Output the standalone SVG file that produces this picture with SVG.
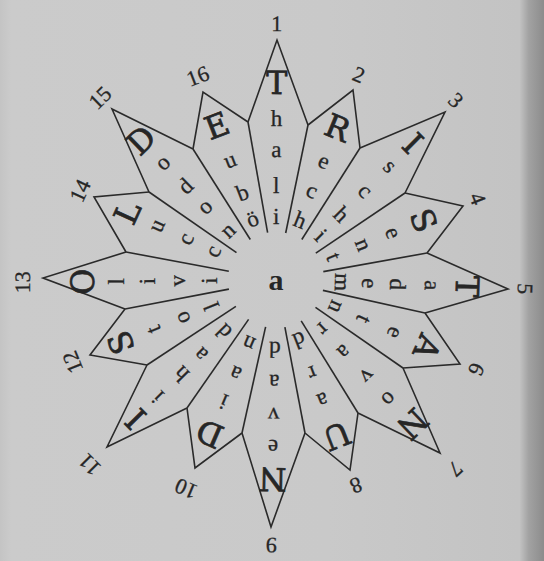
<svg xmlns="http://www.w3.org/2000/svg" width="544" height="561" viewBox="0 0 544 561">
<defs>
<linearGradient id="paper" x1="0" y1="0" x2="1" y2="0">
<stop offset="0" stop-color="#c4c4c4"/>
<stop offset="0.02" stop-color="#cbcbcb"/>
<stop offset="0.6" stop-color="#c9c9c9"/>
<stop offset="0.955" stop-color="#c3c3c3"/>
<stop offset="0.972" stop-color="#a2a2a2"/>
<stop offset="1" stop-color="#8c8c8c"/>
</linearGradient>
<style>
.edge{fill:none;stroke:#2a2a2a;stroke-width:1.6;stroke-linejoin:miter}
.spoke{stroke:#2a2a2a;stroke-width:1.6;fill:none}
text{font-family:"Liberation Serif","DejaVu Serif",serif;fill:#262626;text-anchor:middle}
.cap{font-family:"DejaVu Serif","Liberation Serif",serif;font-size:32px;stroke:#262626;stroke-width:0.7}
.sm{font-size:23px;stroke:#262626;stroke-width:0.3}
.num{font-size:22px;stroke:#262626;stroke-width:0.3}
.mid{font-size:30px;font-weight:bold}
</style>
</defs>
<rect x="0" y="0" width="544" height="561" fill="url(#paper)"/>

<g id="connectors">
<line class="spoke" x1="248" y1="122" x2="267.6" y2="232.7"/>
<line class="spoke" x1="308" y1="125" x2="285.7" y2="233"/>
<line class="spoke" x1="360" y1="148" x2="301.8" y2="239.5"/>
<line class="spoke" x1="405" y1="193" x2="315.8" y2="253.2"/>
<line class="spoke" x1="427" y1="253" x2="323.3" y2="271.6"/>
<line class="spoke" x1="425" y1="313" x2="322.9" y2="290.4"/>
<line class="spoke" x1="403" y1="368" x2="315.5" y2="307.3"/>
<line class="spoke" x1="358" y1="413" x2="301.2" y2="320.9"/>
<line class="spoke" x1="305" y1="433" x2="284.9" y2="327.2"/>
<line class="spoke" x1="242" y1="433" x2="265.6" y2="326.9"/>
<line class="spoke" x1="187" y1="408" x2="248.6" y2="319.4"/>
<line class="spoke" x1="147" y1="365" x2="235.9" y2="306.4"/>
<line class="spoke" x1="125" y1="309" x2="228.9" y2="289.1"/>
<line class="spoke" x1="126" y1="252" x2="228.8" y2="271.2"/>
<line class="spoke" x1="149" y1="192" x2="236.5" y2="252.7"/>
<line class="spoke" x1="193" y1="149" x2="250.3" y2="239.5"/>
</g>

<g id="center"><text class="mid" x="276" y="290">a</text></g>

<g id="ray1">
<path class="edge" d="M248,122 L277,40 L308,125"/>
<g transform="rotate(0.2 276 280)">
<text class="num" x="276" y="31">1</text>
<text class="cap" x="276" y="94">T</text>
<text class="sm" x="276" y="126">h</text>
<text class="sm" x="276" y="157">a</text>
<text class="sm" x="276" y="193">l</text>
<text class="sm" x="276" y="224">i</text>
</g>
</g>

<g id="ray2">
<path class="edge" d="M308,125 L353,90 L360,148"/>
<g transform="rotate(22 276 280)">
<text class="num" x="276" y="66">2</text>
<text class="cap" x="276" y="127">R</text>
<text class="sm" x="276" y="159">e</text>
<text class="sm" x="276" y="191">c</text>
<text class="sm" x="276" y="223">h</text>
</g>
</g>

<g id="ray3">
<path class="edge" d="M360,148 L445,112 L405,193"/>
<g transform="rotate(45 276 280)">
<text class="num" x="276" y="33">3</text>
<text class="cap" x="276" y="98">I</text>
<text class="sm" x="276" y="126">s</text>
<text class="sm" x="276" y="161">c</text>
<text class="sm" x="276" y="195">h</text>
<text class="sm" x="276" y="224">i</text>
</g>
</g>

<g id="ray4">
<path class="edge" d="M405,193 L463,206 L427,253"/>
<g transform="rotate(68 276 280)">
<text class="num" x="276" y="70">4</text>
<text class="cap" x="276" y="132">S</text>
<text class="sm" x="276" y="161">e</text>
<text class="sm" x="276" y="193">n</text>
<text class="sm" x="276" y="225">t</text>
</g>
</g>

<g id="ray5">
<path class="edge" d="M427,253 L508,289 L425,313"/>
<g transform="rotate(92 276 280)">
<text class="num" x="276" y="38">5</text>
<text class="cap" x="276" y="100">T</text>
<text class="sm" x="276" y="131">a</text>
<text class="sm" x="276" y="166">d</text>
<text class="sm" x="276" y="194">e</text>
<text class="sm" x="276" y="221">m</text>
</g>
</g>

<g id="ray6">
<path class="edge" d="M425,313 L460,364 L403,368"/>
<g transform="rotate(114 276 280)">
<text class="num" x="276" y="68">6</text>
<text class="cap" x="276" y="126">A</text>
<text class="sm" x="276" y="157">e</text>
<text class="sm" x="276" y="191">t</text>
<text class="sm" x="276" y="221">n</text>
</g>
</g>

<g id="ray7">
<path class="edge" d="M403,368 L440,453 L358,413"/>
<g transform="rotate(136.5 276 280)">
<text class="num" x="276" y="27">7</text>
<text class="cap" x="276" y="93">N</text>
<text class="sm" x="276" y="123">o</text>
<text class="sm" x="276" y="155">v</text>
<text class="sm" x="276" y="188">a</text>
<text class="sm" x="276" y="219">r</text>
</g>
</g>

<g id="ray8">
<path class="edge" d="M358,413 L350,470 L305,433"/>
<g transform="rotate(158.7 276 280)">
<text class="num" x="276" y="67">8</text>
<text class="cap" x="276" y="124">U</text>
<text class="sm" x="276" y="158">a</text>
<text class="sm" x="276" y="187">r</text>
<text class="sm" x="276" y="223">d</text>
</g>
</g>

<g id="ray9">
<path class="edge" d="M305,433 L271,527 L242,433"/>
<g transform="rotate(181 276 280)">
<text class="num" x="276" y="22">9</text>
<text class="cap" x="276" y="92">N</text>
<text class="sm" x="276" y="120">e</text>
<text class="sm" x="276" y="152">v</text>
<text class="sm" x="276" y="185">a</text>
<text class="sm" x="276" y="218">d</text>
</g>
</g>

<g id="ray10">
<path class="edge" d="M242,433 L195,468 L187,408"/>
<g transform="rotate(203.3 276 280)">
<text class="num" x="276" y="60">10</text>
<text class="cap" x="276" y="124">D</text>
<text class="sm" x="276" y="155">i</text>
<text class="sm" x="276" y="185">a</text>
<text class="sm" x="276" y="218">n</text>
</g>
</g>

<g id="ray11">
<path class="edge" d="M187,408 L107,447 L147,365"/>
<g transform="rotate(225.3 276 280)">
<text class="num" x="276" y="25">11</text>
<text class="cap" x="276" y="94">I</text>
<text class="sm" x="276" y="121">i</text>
<text class="sm" x="276" y="154">h</text>
<text class="sm" x="276" y="181">a</text>
<text class="sm" x="276" y="214">d</text>
</g>
</g>

<g id="ray12">
<path class="edge" d="M147,365 L90,355 L125,309"/>
<g transform="rotate(248 276 280)">
<text class="num" x="276" y="68">12</text>
<text class="cap" x="276" y="124">S</text>
<text class="sm" x="276" y="155">t</text>
<text class="sm" x="276" y="186">o</text>
<text class="sm" x="276" y="218">l</text>
</g>
</g>

<g id="ray13">
<path class="edge" d="M125,309 L43,278 L126,252"/>
<g transform="rotate(269.5 276 280)">
<text class="num" x="276" y="34">13</text>
<text class="cap" x="276" y="98">O</text>
<text class="sm" x="276" y="128">l</text>
<text class="sm" x="276" y="159">i</text>
<text class="sm" x="276" y="189">v</text>
<text class="sm" x="276" y="221">i</text>
</g>
</g>

<g id="ray14">
<path class="edge" d="M126,252 L94,197 L149,192"/>
<g transform="rotate(294.5 276 280)">
<text class="num" x="276" y="72">14</text>
<text class="cap" x="276" y="128">L</text>
<text class="sm" x="276" y="156">u</text>
<text class="sm" x="276" y="188">c</text>
<text class="sm" x="276" y="218">c</text>
</g>
</g>

<g id="ray15">
<path class="edge" d="M149,192 L112,109 L193,149"/>
<g transform="rotate(316 276 280)">
<text class="num" x="276" y="34">15</text>
<text class="cap" x="276" y="97">D</text>
<text class="sm" x="276" y="124">o</text>
<text class="sm" x="276" y="157">d</text>
<text class="sm" x="276" y="185">o</text>
<text class="sm" x="276" y="218">n</text>
</g>
</g>

<g id="ray16">
<path class="edge" d="M193,149 L203,92 L248,122"/>
<g transform="rotate(339 276 280)">
<text class="num" x="276" y="69">16</text>
<text class="cap" x="276" y="126">E</text>
<text class="sm" x="276" y="159">u</text>
<text class="sm" x="276" y="194">b</text>
<text class="sm" x="276" y="222">ö</text>
</g>
</g>
</svg>
